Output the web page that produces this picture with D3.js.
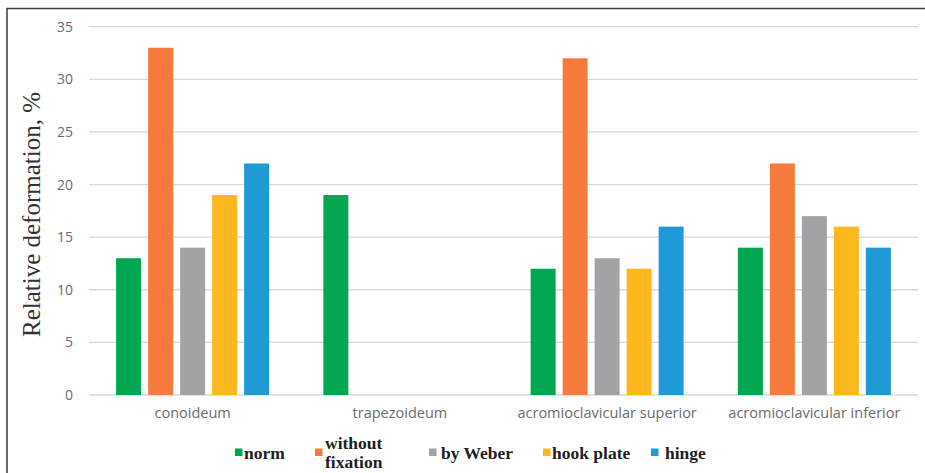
<!DOCTYPE html>
<html><head><meta charset="utf-8">
<script src="https://cdn.jsdelivr.net/npm/d3@7"></script>
<style>html,body{margin:0;padding:0;background:#fff;}svg{display:block;}</style>
</head><body>
<svg id="c" width="925" height="473"></svg>
<script>
const categories = ["conoideum", "trapezoideum", "acromioclavicular superior", "acromioclavicular inferior"];
const seriesNames = ["norm", "without fixation", "by Weber", "hook plate", "hinge"];
const norm = [13, 19, 12, 14];
const withoutFixation = [33, 0, 32, 22];
const byWeber = [14, 0, 13, 17];
const hookPlate = [19, 0, 12, 16];
const hinge = [22, 0, 16, 14];
const yTicks = [0, 5, 10, 15, 20, 25, 30, 35];
const colors = ["#00a651", "#f47b3c", "#a3a3a5", "#fdb71f", "#1f9ad6"];
const seriesValues = [norm, withoutFixation, byWeber, hookPlate, hinge];

const svg = d3.select("#c");
const mLeft = 89, mRight = 918, mTop = 26.7, mBottom = 395;

// frame
svg.append("path").attr("d", "M7,473 V8.5 H925").attr("fill", "none").attr("stroke", "#3a3a3a").attr("stroke-width", 1.5);

const y = d3.scaleLinear().domain([0, 35]).range([mBottom, mTop]);
const x0 = d3.scaleBand().domain(categories).range([mLeft, mRight]).padding(0);
const groupW = 153;
const x1 = d3.scaleBand().domain(seriesNames)
  .range([(x0.bandwidth() - groupW) / 2, (x0.bandwidth() + groupW) / 2])
  .paddingInner(0.219).paddingOuter(0);

// gridlines
svg.append("g").selectAll("line").data(yTicks).join("line")
  .attr("x1", mLeft).attr("x2", mRight)
  .attr("y1", d => y(d)).attr("y2", d => y(d))
  .attr("stroke", "#d9d9d9").attr("stroke-width", 1.3);

// y axis labels
const yAxis = d3.axisLeft(y).tickValues(yTicks).tickSize(0).tickPadding(0);
const ya = svg.append("g").attr("transform", "translate(73,0)").call(yAxis);
ya.select(".domain").remove();
ya.selectAll("text").attr("font-family", "Open Sans").attr("font-size", 14).attr("fill", "#6b6b6b");

// bars
const data = [];
categories.forEach((c, i) => seriesNames.forEach((s, j) => data.push({c, s, v: seriesValues[j][i], col: colors[j]})));
svg.append("g").selectAll("rect").data(data.filter(d => d.v > 0)).join("rect")
  .attr("x", d => x0(d.c) + x1(d.s))
  .attr("width", x1.bandwidth())
  .attr("y", d => y(d.v))
  .attr("height", d => mBottom - y(d.v))
  .attr("fill", d => d.col);

// x axis labels
const xAxis = d3.axisBottom(x0).tickSize(0).tickPadding(0);
const xa = svg.append("g").attr("transform", `translate(0,${mBottom + 13})`).call(xAxis);
xa.select(".domain").remove();
xa.selectAll("text").attr("font-family", "Open Sans").attr("font-size", 14.5).attr("fill", "#6b6b6b").attr("dy", "0.71em");

// y title
svg.append("text").attr("transform", "translate(40,214.5) rotate(-90)")
  .attr("text-anchor", "middle").attr("font-family", "Liberation Serif, Times New Roman, serif")
  .attr("font-size", 25).attr("fill", "#333").text("Relative deformation, %");

// legend
const legendItems = [
  {name: "norm", lines: ["norm"], sx: 235, tx: 244},
  {name: "without fixation", lines: ["without", "fixation"], sx: 315, tx: 325},
  {name: "by Weber", lines: ["by Weber"], sx: 429, tx: 441},
  {name: "hook plate", lines: ["hook plate"], sx: 543, tx: 552},
  {name: "hinge", lines: ["hinge"], sx: 651, tx: 665}
];
const lg = svg.append("g");
legendItems.forEach((it, i) => {
  lg.append("rect").attr("x", it.sx).attr("y", 448.5).attr("width", 7.5).attr("height", 7.5).attr("fill", colors[i]);
  const t = lg.append("text").attr("x", it.tx).attr("y", it.lines.length > 1 ? 448.5 : 459)
    .attr("font-family", "Liberation Serif, Times New Roman, serif").attr("font-size", 17.5).attr("font-weight", "bold").attr("fill", "#1e1e1e");
  it.lines.forEach((l, k) => t.append("tspan").attr("x", it.tx).attr("dy", k === 0 ? 0 : 19.6).text(l));
});
</script>
</body></html>
